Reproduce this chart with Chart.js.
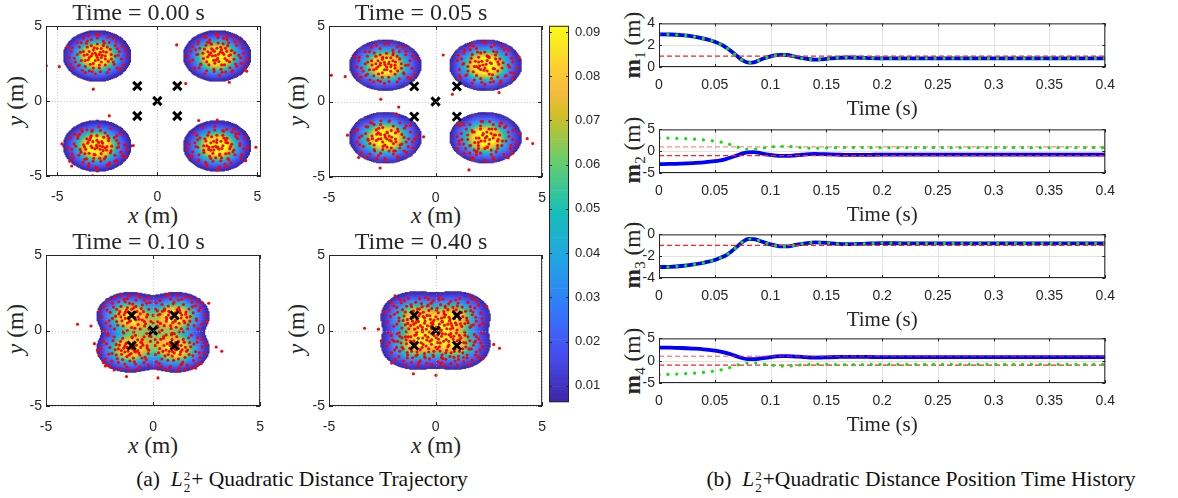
<!DOCTYPE html>
<html>
<head>
<meta charset="utf-8">
<title>L2^2 + Quadratic Distance</title>
<script src="https://cdn.jsdelivr.net/npm/chart.js@4.4.1/dist/chart.umd.min.js"></script>
<style>
html,body{margin:0;padding:0;background:#fff;}
body{position:relative;width:1178px;height:498px;overflow:hidden;font-family:"Liberation Serif","Times New Roman",serif;color:#262626;}
canvas{position:absolute;}
.t{position:absolute;white-space:nowrap;line-height:1;transform:translate(-50%,-50%);font-size:23.5px;}
.r{transform:translate(-50%,-50%) rotate(-90deg);}
.cap{font-size:21.5px;color:#111;}
.st{display:inline-block;font-size:13px;line-height:12px;vertical-align:-6px;margin:0 1px;}
.st span{display:block;}
.sb{font-size:15px;position:relative;top:5px;font-weight:normal;}
</style>
</head>
<body>
<div class="t" style="left:153px;top:216px"><i>x</i> (m)</div>
<div class="t" style="left:436px;top:216px"><i>x</i> (m)</div>
<div class="t" style="left:153px;top:446px"><i>x</i> (m)</div>
<div class="t" style="left:436px;top:446px"><i>x</i> (m)</div>
<div class="t r" style="left:16px;top:101px"><i>y</i> (m)</div>
<div class="t r" style="left:297px;top:101px"><i>y</i> (m)</div>
<div class="t r" style="left:16px;top:329px"><i>y</i> (m)</div>
<div class="t r" style="left:297px;top:329px"><i>y</i> (m)</div>
<div class="t r" style="left:633px;top:45px"><b>m</b><span class="sb">1</span> (m)</div>
<div class="t r" style="left:633px;top:150px"><b>m</b><span class="sb">2</span> (m)</div>
<div class="t r" style="left:633px;top:255px"><b>m</b><span class="sb">3</span> (m)</div>
<div class="t r" style="left:633px;top:361px"><b>m</b><span class="sb">4</span> (m)</div>
<div class="t cap" style="left:302px;top:481px">(a)&nbsp; <i>L</i><span class="st"><span>2</span><span>2</span></span>+ Quadratic Distance Trajectory</div>
<div class="t cap" style="left:921px;top:481px">(b)&nbsp; <i>L</i><span class="st"><span>2</span><span>2</span></span>+Quadratic Distance Position Time History</div>
<script>
// ===================== DATA =====================
const targets = [[-1,1],[1,1],[0,0],[-1,-1],[1,-1]];
const trajTicks = [-5,0,5];
const cbTicks = [0.01,0.02,0.03,0.04,0.05,0.06,0.07,0.08,0.09];
const cMin = 0.0063, cMax = 0.0914;
const panelTitles = ['Time = 0.00 s','Time = 0.05 s','Time = 0.10 s','Time = 0.40 s'];

// density components [cx, cy, peak] read from the colour fields
const dens00 = [[-3,3,0.12],[3,3,0.12],[-3,-3,0.121],[3,-3,0.117]];
const dens05 = [[-2.35,2.4,0.115],[2.35,2.4,0.12],[-2.35,-2.4,0.12],[2.35,-2.4,0.116]];
const dens10 = [[-1.08,0.98,0.1],[1.08,0.98,0.1],[-1.08,-1.22,0.1],[1.08,-1.22,0.1],[0,-0.12,0.035]];
const dens40 = [[-0.95,0.97,0.075],[0.95,0.97,0.075],[-0.95,-0.97,0.075],[0.95,-0.97,0.075],[0,0,0.05]];
const densSpread = [0.70,0.70,0.66,0.72];

// particles
const dots00 = [
[-3.1,3.2],[-2.8,3.5],[-3.4,2.9],[-2.6,2.8],[-3.0,3.8],[-3.7,3.3],[-2.3,3.1],[-3.2,2.5],[-2.9,2.2],[-3.5,3.6],
[-2.5,3.6],[-3.8,2.7],[-2.2,2.6],[-3.3,4.1],[-2.7,4.0],[-4.0,3.1],[-3.6,2.3],[-2.4,2.1],[-1.9,3.3],[-3.0,2.9],
[-3.2,3.4],[-2.9,3.1],[-2.7,3.3],[-3.3,3.0],[-3.5,3.1],[-2.6,3.0],[-3.1,2.7],[-2.8,2.6],[-3.9,3.6],[-4.3,3.3],
[-4.1,2.6],[-3.4,2.0],[-2.1,3.7],[-1.8,2.8],[-2.2,4.2],[-3.7,4.2],[-4.4,2.9],[-1.6,3.4],[-2.5,1.9],[-3.1,1.8],
[-3.8,3.9],[-2.9,4.4],[-2.0,2.2],[-4.5,3.6],[-3.6,1.9],[-2.4,3.9],[-3.0,3.5],[-2.8,2.9],[-3.4,3.3],[-2.6,2.4],
[-3.2,2.2],[-1.7,2.4],[-4.2,2.2],[-2.3,2.8],[-3.9,2.4],[-2.7,3.7],[-3.6,2.7],[-2.1,3.0],[-3.3,3.7],[-4.0,3.9],
[-1.5,3.0],[-2.9,2.4],[-3.5,4.0],[-2.0,3.5],[-3.0,4.2],
[-3.05,3.05],[-2.85,3.25],[-3.25,3.15],[-2.95,2.75],[-3.45,2.75],[-2.55,3.25],[-3.15,3.55],[-2.75,3.05],[-3.35,2.45],[-2.45,2.65],
[-3.65,3.05],[-2.65,3.85],[-3.85,3.25],[-2.35,3.45],[-3.55,3.85],[-2.15,2.45],[-4.15,2.85],[-3.25,1.95],[-1.95,3.05],[-3.75,2.05],
[-2.05,3.95],[-4.25,3.55],[-2.85,1.95],[-3.05,4.45],[-1.75,3.65],[-3.95,2.35],[-2.45,4.25],[-4.35,2.45],[-3.45,4.35],[-1.85,2.15],
[3.15,3.25],[2.72,3.48],[3.38,2.83],[2.52,2.94],[3.04,3.87],[3.71,3.36],[2.28,3.18],[3.22,2.41],[2.83,2.12],[3.52,3.68],
[2.43,3.72],[3.84,2.78],[2.18,2.47],[3.31,4.18],[2.62,4.07],[4.08,3.04],[3.63,2.21],[2.47,2.02],[1.92,3.41],[3.02,2.84],
[3.21,3.42],[2.91,3.03],[2.68,3.22],[3.33,3.11],[3.58,3.02],[2.61,3.09],[3.08,2.63],[2.82,2.71],[3.97,3.72],[4.31,3.18],
[4.18,2.52],[3.42,1.93],[2.03,3.82],[1.78,2.73],[2.33,4.28],[3.81,4.27],[4.48,2.81],[1.68,3.32],[2.38,1.82],[3.11,1.71],
[3.88,3.93],[2.93,4.47],[2.09,2.21],[3.47,3.31],[3.72,1.94],[2.51,3.91],[2.98,3.52],[2.79,3.38],[3.41,3.52],[2.58,2.41],
[3.19,2.12],[1.62,2.61],[4.38,2.12],[2.31,2.83],[3.92,2.47],[2.71,3.79],[3.61,2.62],[2.02,3.11],[3.29,3.81],[4.12,3.98],
[1.52,2.98],[2.88,2.52],[3.49,4.11],[2.12,3.52],[3.03,4.22],
[3.06,3.12],[2.86,3.31],[3.27,3.22],[2.93,2.72],[3.48,2.71],[2.53,3.28],[3.17,3.58],[2.76,3.01],[3.36,2.42],[2.47,2.62],
[3.66,3.08],[2.63,3.88],[3.87,3.21],[2.36,3.47],[3.56,3.88],[2.16,2.42],[4.17,2.88],[3.24,1.92],[1.97,3.08],[3.77,2.02],
[2.06,3.97],[4.27,3.52],[2.84,1.97],[3.04,4.42],[1.77,3.62],[3.97,2.32],[2.44,4.27],[4.36,2.48],[3.46,4.32],[1.86,2.18],
[-3.12,-3.18],[-2.73,-2.82],[-3.41,-3.48],[-2.52,-3.03],[-3.02,-2.31],[-3.68,-2.92],[-2.31,-3.32],[-3.18,-3.82],[-2.82,-4.01],[-3.52,-2.52],
[-2.42,-2.48],[-3.82,-3.41],[-2.12,-3.62],[-3.28,-2.02],[-2.61,-2.12],[-4.08,-3.02],[-3.62,-3.88],[-2.38,-4.12],[-1.92,-2.82],[-3.01,-3.12],
[-3.22,-2.71],[-2.88,-2.98],[-2.71,-3.31],[-3.31,-3.02],[-3.58,-3.21],[-2.62,-3.12],[-3.11,-3.58],[-2.81,-3.51],[-3.98,-2.48],[-4.28,-3.22],
[-4.21,-3.81],[-3.42,-4.18],[-2.02,-2.31],[-1.82,-3.41],[-2.32,-1.82],[-3.78,-1.92],[-4.48,-3.12],[-1.62,-2.92],[-2.52,-4.28],[-3.08,-4.42],
[-3.88,-2.22],[-2.92,-1.72],[-2.12,-4.02],[-3.48,-2.82],[-3.72,-4.08],[-2.48,-2.32],[-3.02,-2.62],[-2.78,-2.71],[-3.38,-2.58],[-2.58,-3.72],
[-3.21,-4.02],[-1.58,-3.72],[-4.38,-4.01],[-2.28,-3.01],[-3.92,-3.61],[-2.68,-2.42],[-3.62,-3.52],[-2.01,-3.12],[-3.31,-2.32],[-4.12,-2.21],
[-1.52,-3.21],[-2.88,-3.82],[-3.52,-1.92],[-2.02,-2.62],[-3.02,-4.58],
[-3.04,-2.96],[-2.86,-3.22],[-3.26,-3.12],[-2.94,-2.76],[-3.46,-2.74],[-2.54,-3.26],[-3.16,-3.56],[-2.74,-3.04],[-3.34,-2.44],[-2.44,-2.64],
[-3.64,-3.06],[-2.64,-3.86],[-3.86,-3.24],[-2.34,-3.46],[-3.54,-3.86],[-2.14,-2.44],[-4.16,-2.86],[-3.24,-1.94],[-1.94,-3.06],[-3.76,-2.04],
[-2.04,-3.96],[-4.26,-3.54],[-2.84,-1.96],[-3.04,-4.44],[-1.74,-3.64],[-3.96,-2.34],[-2.44,-4.26],[-4.34,-2.46],[-3.44,-4.34],[-1.84,-2.16],
[3.08,-3.22],[2.68,-2.78],[3.42,-3.52],[2.48,-2.98],[2.98,-2.28],[3.72,-2.88],[2.32,-3.28],[3.21,-3.78],[2.78,-4.02],[3.48,-2.48],
[2.38,-2.52],[3.78,-3.38],[2.08,-3.58],[3.32,-2.02],[2.58,-2.08],[4.12,-2.98],[3.58,-3.92],[2.42,-4.08],[1.88,-2.78],[2.98,-3.08],
[3.18,-2.68],[2.92,-3.02],[2.68,-3.28],[3.28,-2.98],[3.62,-3.18],[2.58,-3.08],[3.12,-3.62],[2.78,-3.48],[4.02,-2.52],[4.32,-3.18],
[4.18,-3.78],[3.38,-4.22],[1.98,-2.28],[1.78,-3.38],[2.28,-1.78],[3.82,-1.88],[4.52,-3.08],[1.58,-2.88],[2.48,-4.32],[3.12,-4.38],
[3.92,-2.18],[2.88,-1.68],[2.08,-3.98],[3.52,-2.78],[3.68,-4.12],[2.52,-2.28],[2.98,-2.58],[2.82,-2.68],[3.42,-2.62],[2.62,-3.68],
[3.18,-3.98],[1.62,-3.68],[4.42,-3.98],[2.32,-2.98],[3.88,-3.58],[2.72,-2.38],[3.58,-3.48],[2.02,-3.08],[3.28,-2.28],[4.08,-2.18],
[1.48,-3.18],[2.92,-3.78],[3.48,-1.88],[2.02,-2.58],[2.98,-4.62],
[3.03,-3.07],[2.83,-3.27],[3.23,-3.17],[2.97,-2.77],[3.43,-2.77],[2.57,-3.23],[3.13,-3.53],[2.77,-3.07],[3.33,-2.47],[2.43,-2.67],
[3.67,-3.03],[2.67,-3.83],[3.83,-3.27],[2.33,-3.43],[3.53,-3.83],[2.13,-2.47],[4.13,-2.83],[3.27,-1.97],[1.93,-3.03],[3.73,-2.07],
[2.07,-3.93],[4.23,-3.57],[2.87,-1.93],[3.07,-4.47],[1.73,-3.67],[3.93,-2.37],[2.47,-4.23],[4.37,-2.43],[3.47,-4.37],[1.83,-2.13],
[-5.55,2.35],[-4.9,2.29],[-3.2,0.79],[0.97,3.74],[1.42,1.16],[3.6,1.25],[4.47,1.98],[-2.4,-0.99],[-1.2,-2.97],
[-4.77,-2.86],[-4.28,-4.33],[-3.23,-4.99],[2.2,-5.16],[4.93,-3.08],[5.2,-3.36],[2.07,-1.3],[3.0,-1.27]
];

const dots05 = [
[-2.4,2.6],[-2.1,2.9],[-2.7,2.3],[-1.9,2.2],[-2.3,3.2],[-3.0,2.7],[-1.6,2.5],[-2.5,1.9],[-2.2,1.6],[-2.8,3.0],
[-1.8,3.0],[-3.1,2.1],[-1.5,1.9],[-2.6,3.5],[-2.0,3.4],[-3.3,2.5],[-2.9,1.7],[-1.7,1.5],[-1.2,2.7],[-2.3,2.3],
[-2.5,2.8],[-2.2,2.5],[-2.0,2.7],[-2.6,2.4],[-2.8,2.5],[-1.9,2.4],[-2.4,2.1],[-2.1,2.0],[-3.2,3.0],[-3.6,2.7],
[-3.4,2.0],[-2.7,1.4],[-1.4,3.1],[-1.1,2.2],[-1.5,3.6],[-3.0,3.6],[-3.7,2.3],[-0.9,2.8],[-1.8,1.3],[-2.4,1.2],
[-3.1,3.3],[-2.2,3.8],[-1.3,1.6],[-3.8,3.0],[-2.9,1.3],[-1.7,3.3],[-2.3,2.9],[-2.1,2.3],[-2.7,2.7],[-1.9,1.8],
[-2.5,1.6],[-1.0,1.8],[-3.5,1.6],[-1.6,2.2],[-3.2,1.8],[-2.0,3.1],[-2.9,2.1],[-1.4,2.4],[-2.6,3.1],[-3.3,3.3],
[-2.38,2.45],[-2.18,2.62],[-2.58,2.55],[-2.28,2.12],[-2.78,2.18],[-1.88,2.62],[-2.48,2.92],[-2.08,2.42],[-2.68,1.82],[-1.78,2.02],
[-2.98,2.42],[-1.98,3.22],[-3.18,2.62],[-1.68,2.82],[-2.88,3.22],[-1.48,1.82],[-3.48,2.22],[-2.58,1.32],[-1.28,2.42],[-3.08,1.42],
[-1.38,3.32],[-3.58,2.92],[-2.18,1.32],[-2.38,3.82],[-1.08,3.02],[-3.28,1.72],[-1.78,3.62],[-3.68,1.82],[-2.78,3.72],[-1.18,1.52],
[2.42,2.71],[2.02,2.93],[2.71,2.18],[1.82,2.32],[2.31,3.28],[3.02,2.82],[1.62,2.61],[2.52,1.82],[2.12,1.52],[2.81,3.08],
[1.72,3.12],[3.12,2.22],[1.52,2.02],[2.62,3.61],[1.92,3.52],[3.41,2.42],[2.92,1.62],[1.82,1.42],[1.22,2.82],[2.32,2.22],
[2.52,2.92],[2.22,2.42],[2.02,2.62],[2.62,2.52],[2.92,2.62],[1.92,2.32],[2.42,2.02],[2.12,2.12],[3.32,3.12],[3.62,2.62],
[3.52,1.92],[2.72,1.32],[1.32,3.22],[1.12,2.12],[1.62,3.72],[3.12,3.62],[3.82,2.22],[1.02,2.72],[1.72,1.22],[2.32,1.12],
[3.22,3.42],[2.22,3.92],[1.42,1.72],[3.92,2.92],[3.02,1.22],[1.62,3.42],[2.42,3.02],[2.02,2.22],[2.82,2.82],[1.92,1.72],
[2.62,1.52],[1.12,1.72],[3.62,1.52],[1.52,2.32],[3.32,1.72],[2.12,3.22],[2.92,2.02],[1.32,2.52],[2.72,3.32],[3.42,3.42],
[2.37,2.47],[2.17,2.67],[2.57,2.57],[2.27,2.07],[2.77,2.17],[1.87,2.67],[2.47,2.97],[2.07,2.37],[2.67,1.77],[1.77,1.97],
[2.97,2.47],[1.97,3.27],[3.17,2.57],[1.67,2.87],[2.87,3.27],[1.47,1.77],[3.47,2.27],[2.57,1.27],[1.27,2.47],[3.07,1.37],
[1.37,3.37],[3.57,2.87],[2.17,1.27],[2.37,3.87],[1.07,3.07],[3.27,1.67],[1.77,3.67],[3.67,1.87],[2.77,3.77],[1.17,1.57],
[-2.38,-2.21],[-2.08,-2.62],[-2.68,-2.48],[-1.88,-2.08],[-2.28,-3.02],[-2.98,-2.28],[-1.58,-2.82],[-2.48,-1.72],[-2.18,-3.28],[-2.78,-1.88],
[-1.78,-1.82],[-3.08,-2.78],[-1.48,-2.38],[-2.58,-3.42],[-1.98,-3.48],[-3.28,-2.12],[-2.88,-3.18],[-1.68,-3.08],[-1.18,-2.02],[-2.28,-2.48],
[-2.48,-2.68],[-2.18,-2.28],[-1.98,-2.78],[-2.58,-2.18],[-2.78,-2.58],[-1.88,-2.48],[-2.38,-2.88],[-2.08,-1.92],[-3.18,-1.68],[-3.58,-2.38],
[-3.38,-2.98],[-2.68,-3.58],[-1.38,-1.62],[-1.08,-2.68],[-1.48,-3.28],[-2.98,-1.42],[-3.68,-2.68],[-0.88,-2.28],[-1.78,-3.68],[-2.38,-3.78],
[-3.08,-3.48],[-2.18,-1.32],[-1.28,-2.98],[-3.78,-2.02],[-2.88,-1.52],[-1.68,-1.42],[-2.28,-2.02],[-2.08,-3.08],[-2.68,-2.08],[-1.88,-3.28],
[-2.48,-3.18],[-0.98,-2.48],[-3.48,-3.38],[-1.58,-2.18],[-3.18,-2.48],[-1.98,-1.62],[-2.88,-2.88],[-1.38,-2.68],[-2.58,-1.52],[-3.28,-3.68],
[-2.36,-2.37],[-2.16,-2.57],[-2.56,-2.47],[-2.26,-2.07],[-2.76,-2.17],[-1.86,-2.67],[-2.46,-2.97],[-2.06,-2.37],[-2.66,-1.77],[-1.76,-1.97],
[-2.96,-2.47],[-1.96,-3.27],[-3.16,-2.57],[-1.66,-2.87],[-2.86,-3.27],[-1.46,-1.77],[-3.46,-2.27],[-2.56,-1.27],[-1.26,-2.47],[-3.06,-1.37],
[-1.36,-3.37],[-3.56,-2.87],[-2.16,-1.27],[-2.36,-3.87],[-1.06,-3.07],[-3.26,-1.67],[-1.76,-3.67],[-3.66,-1.87],[-2.76,-3.77],[-1.16,-1.57],
[2.41,-2.32],[2.01,-2.71],[2.71,-2.42],[1.81,-2.02],[2.31,-3.12],[3.01,-2.22],[1.61,-2.92],[2.51,-1.82],[2.11,-3.42],[2.81,-1.82],
[1.71,-1.92],[3.11,-2.92],[1.51,-2.52],[2.61,-3.52],[1.91,-3.32],[3.41,-2.02],[2.91,-3.12],[1.81,-3.22],[1.21,-2.12],[2.31,-2.62],
[2.51,-2.82],[2.21,-2.22],[2.01,-2.92],[2.61,-2.12],[2.91,-2.62],[1.91,-2.42],[2.41,-3.02],[2.11,-1.82],[3.31,-1.62],[3.61,-2.52],
[3.51,-3.12],[2.71,-3.72],[1.31,-1.52],[1.11,-2.82],[1.61,-3.42],[3.11,-1.42],[3.81,-2.82],[1.01,-2.32],[1.71,-3.82],[2.31,-3.92],
[3.21,-3.52],[2.21,-1.32],[1.41,-3.12],[3.91,-2.12],[3.01,-1.62],[1.61,-1.52],[2.41,-2.02],[2.01,-3.12],[2.81,-2.22],[1.91,-3.52],
[2.61,-3.22],[1.11,-2.62],[3.61,-3.42],[1.51,-2.22],[3.31,-2.62],[2.11,-1.62],[2.91,-2.92],[1.31,-2.82],[2.71,-1.52],[3.41,-3.72],
[2.34,-2.42],[2.14,-2.62],[2.54,-2.52],[2.24,-2.12],[2.74,-2.22],[1.84,-2.72],[2.44,-3.02],[2.04,-2.42],[2.64,-1.82],[1.74,-2.02],
[2.94,-2.52],[1.94,-3.32],[3.14,-2.62],[1.64,-2.92],[2.84,-3.32],[1.44,-1.82],[3.44,-2.32],[2.54,-1.32],[1.24,-2.52],[3.04,-1.42],
[1.34,-3.42],[3.54,-2.92],[2.14,-1.32],[2.34,-3.92],[1.04,-3.12],[3.24,-1.72],[1.74,-3.72],[3.64,-1.92],[2.74,-3.82],[1.14,-1.62],
[-4.89,1.74],[-4.24,1.65],[-2.57,0.15],[0.36,3.08],[0.79,0.48],[2.98,0.59],[-1.73,-0.37],[-1.85,-0.82],[-4.13,-2.23],
[-3.61,-3.71],[-2.6,-4.4],[-0.56,-2.34],[1.57,-4.53],[4.3,-2.45],[4.56,-2.78],[1.09,-1.48]
];

const dots10 = [
[-1.0,1.0],[-1.3,1.2],[-0.8,0.7],[-1.5,0.9],[-0.9,1.5],[-1.2,0.5],[-0.6,1.1],[-1.7,1.4],[-1.1,1.8],[-0.7,0.4],
[-1.4,0.3],[-1.9,0.8],[-0.5,1.7],[-1.6,1.9],[-0.3,0.9],[-2.0,1.2],[-1.2,2.1],[-0.8,2.0],[-2.2,0.5],[-1.0,0.2],
[-0.4,0.3],[-1.8,0.1],[-2.3,1.6],[-0.2,1.4],[-1.5,2.3],[-0.6,2.2],[-2.1,2.0],[-1.3,0.8],[-0.9,1.2],[-1.1,0.6],
[-1.6,1.1],[-0.7,0.9],[-1.2,1.5],[-1.9,1.8],[-2.4,0.9],[-0.1,0.6],[-1.4,-0.1],[-0.9,-0.1],[-2.1,-0.2],[-0.4,2.0],
[-1.7,0.6],[-1.0,1.4],[-0.5,0.7],[-2.5,1.3],[-1.3,1.9],[-0.8,1.6],[-1.5,1.6],[-2.0,0.3],[-0.3,1.8],[-1.1,2.3],
[-0.6,0.1],[-1.8,2.2],[-2.3,0.0],[-1.2,0.0],[-0.2,2.2],
[-0.95,1.05],[-1.15,0.85],[-0.75,1.25],[-1.35,1.05],[-1.05,0.65],[-0.85,0.85],[-1.25,1.35],[-0.65,0.75],[-1.45,0.65],[-0.95,1.75],
[-1.55,1.25],[-0.45,1.25],[-1.75,0.95],[-0.35,0.45],[-1.05,1.15],[-0.55,1.45],[-1.65,0.35],[-1.35,2.05],[-0.25,1.05],[-2.05,0.65],
[-0.85,0.15],[-1.85,1.55],[-0.15,1.85],[-2.15,1.35],[-0.75,2.35],
[1.02,0.98],[1.31,0.82],[0.78,1.22],[1.52,1.08],[0.92,0.52],[1.21,1.52],[0.62,0.88],[1.72,0.62],[1.08,0.22],[0.71,1.62],
[1.42,1.72],[1.88,1.18],[0.52,0.32],[1.62,0.12],[0.32,1.08],[2.02,0.78],[1.18,2.02],[0.82,2.08],[2.22,1.52],[0.98,1.88],
[0.42,1.72],[1.82,1.88],[2.28,0.42],[0.22,0.58],[1.52,2.22],[0.62,2.28],[2.12,0.12],[1.28,1.18],[0.88,0.82],[1.12,1.38],
[1.58,0.88],[0.72,1.02],[1.22,0.48],[1.92,0.32],[2.42,1.02],[0.12,1.42],[1.42,-0.08],[0.88,-0.18],[2.08,1.92],[0.42,0.02],
[1.68,1.42],[1.02,0.62],[0.52,1.32],[2.52,0.62],[1.32,0.12],[0.82,0.32],[1.48,0.52],[1.98,1.62],[0.32,1.98],[1.12,2.32],
[0.62,0.62],[1.78,2.18],[2.32,1.82],[1.22,-0.08],[0.22,0.22],
[0.94,1.07],[1.14,0.83],[0.74,1.27],[1.34,1.03],[1.04,0.67],[0.84,0.87],[1.24,1.33],[0.64,0.77],[1.44,0.63],[0.94,1.77],
[1.54,1.23],[0.44,1.27],[1.74,0.93],[0.34,0.47],[1.04,1.17],[0.54,1.43],[1.64,0.37],[1.34,2.07],[0.24,1.03],[2.04,0.67],
[0.84,0.13],[1.84,1.57],[0.14,1.83],[2.14,1.33],[0.74,2.37],
[-0.98,-1.22],[-1.32,-1.02],[-0.82,-1.42],[-1.48,-1.32],[-0.92,-0.82],[-1.22,-1.72],[-0.58,-1.12],[-1.72,-0.92],[-1.08,-2.02],[-0.72,-0.62],
[-1.42,-0.52],[-1.92,-1.52],[-0.52,-1.82],[-1.62,-2.12],[-0.28,-1.02],[-2.02,-1.12],[-1.22,-2.42],[-0.82,-2.22],[-2.22,-1.92],[-0.98,-0.42],
[-0.42,-0.42],[-1.82,-0.42],[-2.32,-0.72],[-0.22,-1.52],[-1.52,-2.52],[-0.62,-2.42],[-2.12,-2.32],[-1.32,-1.42],[-0.88,-1.02],[-1.12,-1.62],
[-1.62,-1.22],[-0.72,-1.32],[-1.22,-0.82],[-1.92,-2.02],[-2.42,-1.22],[-0.12,-0.72],[-1.42,-1.92],[-0.92,-1.82],[-2.12,-0.32],[-0.42,-2.12],
[-1.72,-1.62],[-1.02,-1.52],[-0.52,-0.82],[-2.52,-1.62],[-1.32,-2.22],[-0.82,-0.32],[-1.52,-0.72],[-2.02,-2.42],[-0.32,-1.92],[-1.12,-2.62],
[-0.62,-1.62],[-1.82,-2.62],[-2.32,-2.12],[-1.22,-1.12],[-0.22,-2.32],
[-0.97,-1.17],[-1.17,-1.37],[-0.77,-0.97],[-1.37,-1.17],[-1.07,-1.57],[-0.87,-1.37],[-1.27,-0.87],[-0.67,-1.47],[-1.47,-1.57],[-0.97,-0.47],
[-1.57,-0.97],[-0.47,-0.97],[-1.77,-1.27],[-0.37,-1.77],[-1.07,-1.07],[-0.57,-0.77],[-1.67,-1.87],[-1.37,-0.17],[-0.27,-1.17],[-2.07,-1.57],
[-0.87,-2.07],[-1.87,-0.67],[-0.17,-0.37],[-2.17,-0.87],[-0.77,-2.57],
[1.01,-1.19],[1.29,-1.41],[0.79,-0.99],[1.51,-1.11],[0.89,-1.69],[1.19,-0.71],[0.61,-1.29],[1.69,-1.59],[1.11,-0.41],[0.69,-1.99],
[1.39,-2.09],[1.91,-0.89],[0.49,-0.51],[1.59,-2.29],[0.31,-1.19],[1.99,-1.39],[1.21,-2.49],[0.81,-2.39],[2.19,-1.79],[0.99,-0.21],
[0.41,-1.89],[1.79,-0.31],[2.29,-1.09],[0.21,-0.79],[1.49,-2.59],[0.59,-2.59],[2.09,-2.29],[1.31,-0.99],[0.91,-1.39],[1.09,-0.89],
[1.61,-1.29],[0.71,-1.59],[1.19,-1.89],[1.89,-1.99],[2.39,-1.49],[0.11,-1.59],[1.41,-0.59],[0.89,-0.59],[2.09,-0.49],[0.39,-2.39],
[1.71,-0.79],[0.99,-1.49],[0.51,-0.99],[2.49,-0.89],[1.29,-2.29],[0.79,-0.79],[1.49,-1.79],[1.99,-2.49],[0.29,-2.19],[1.09,-2.69],
[0.61,-0.29],[1.79,-2.49],[2.29,-0.59],[1.19,-1.19],[0.19,-2.49],
[0.96,-1.18],[1.16,-0.98],[0.76,-1.38],[1.36,-1.28],[1.06,-0.78],[0.86,-0.98],[1.26,-1.58],[0.66,-0.88],[1.46,-0.78],[0.96,-1.98],
[1.56,-1.38],[0.46,-1.38],[1.76,-1.08],[0.36,-0.58],[1.06,-1.28],[0.56,-1.68],[1.66,-0.48],[1.36,-2.18],[0.26,-1.48],[2.06,-0.78],
[0.86,-0.28],[1.86,-1.68],[0.16,-2.08],[2.16,-1.48],[0.76,-2.48],
[0.0,0.0],[0.1,-0.2],[-0.2,0.1],[0.2,0.3],[-0.1,-0.4],[0.3,-0.1],[-0.3,-0.2],[0.0,0.5],[0.1,-0.6],[-0.4,0.6],
[0.5,-0.4],[-0.5,-0.6],[0.0,1.0],[0.1,-1.0],[-0.2,-1.3],[0.2,1.3],
[-3.53,0.41],[-2.9,0.3],[-2.74,-0.87],[-2.23,-2.35],[-1.24,-3.05],[0.23,-3.14],[2.95,-1.09],[3.21,-1.37],[2.25,-2.18],[2.6,1.8],[-2.6,-1.3]
];

const dots40 = [
[-2.08,1.83],[-1.66,2.04],[-1.27,2.12],[-0.93,1.87],[-0.47,2.18],[-0.12,1.96],[0.34,2.07],[0.71,1.92],[1.13,2.11],[1.52,1.86],[1.93,1.98],
[-2.17,1.37],[-1.82,1.52],[-1.36,1.61],[-1.04,1.28],[-0.63,1.57],[-0.18,1.46],[0.24,1.71],[0.58,1.38],[1.02,1.63],[1.41,1.27],[1.84,1.49],[2.12,1.16],
[-1.93,1.07],[-1.48,0.96],[-1.13,0.87],[-0.72,1.12],[-0.27,0.98],[0.13,1.18],[0.47,1.03],[0.92,1.08],[1.28,0.91],[1.73,1.04],[2.18,0.77],
[-2.26,0.58],[-1.72,0.63],[-1.31,0.47],[-0.88,0.72],[-0.52,0.48],[-0.07,0.69],[0.32,0.57],[0.73,0.46],[1.14,0.71],[1.53,0.52],[1.91,0.62],
[-1.97,0.28],[-1.58,0.17],[-1.17,0.33],[-0.83,0.19],[-0.38,0.31],[0.04,0.22],[0.42,0.34],[0.81,0.16],[1.23,0.27],[1.62,0.21],[2.06,0.32],
[-0.78,0.97],[-0.31,1.33],[0.41,0.88],[0.88,0.79],[-1.08,0.61],[0.18,0.43],[-0.58,0.92],[1.22,1.19],[-1.42,1.22],[0.62,1.77],
[-0.21,1.81],[1.63,1.58],[-1.61,1.83],[0.02,0.91],[-0.43,0.08],[0.53,0.12],[-0.98,0.09],[1.01,0.03],
[-2.19,-0.12],[-1.79,-0.21],[-1.38,-0.08],[-0.97,-0.31],[-0.61,-0.09],[-0.17,-0.22],[0.22,-0.07],[0.63,-0.28],[0.98,-0.17],[1.37,-0.11],[1.82,-0.27],[2.17,-0.18],
[-2.02,-0.61],[-1.57,-0.48],[-1.18,-0.72],[-0.81,-0.52],[-0.41,-0.63],[0.03,-0.47],[0.38,-0.71],[0.83,-0.58],[1.19,-0.49],[1.61,-0.68],[2.03,-0.57],
[-2.28,-1.03],[-1.83,-1.12],[-1.37,-0.88],[-0.98,-1.02],[-0.63,-1.13],[-0.19,-0.91],[0.18,-1.08],[0.62,-0.97],[1.03,-0.92],[1.42,-1.09],[1.78,-0.98],[2.21,-1.07],
[-2.07,-1.48],[-1.68,-1.37],[-1.31,-1.62],[-0.87,-1.41],[-0.52,-1.53],[-0.08,-1.38],[0.31,-1.61],[0.73,-1.47],[1.12,-1.38],[1.48,-1.63],[1.92,-1.42],
[-1.88,-1.92],[-1.52,-2.03],[-1.08,-1.81],[-0.72,-2.01],[-0.28,-1.88],[0.12,-2.07],[0.48,-1.91],[0.92,-2.02],[1.31,-1.79],[1.72,-1.98],[2.01,-1.78],
[-1.38,-2.27],[-0.82,-2.31],[-0.18,-2.26],[0.43,-2.33],[1.02,-2.28],[1.58,-2.24],
[-0.68,-0.81],[0.28,-0.38],[0.91,-1.22],[-1.21,-1.18],[-0.32,-1.21],[0.52,-1.31],[1.32,-0.79],[-1.62,-0.83],[0.09,-0.79],[-0.48,-1.82],
[1.08,-1.71],[-1.02,-0.68],[0.72,-0.21],[-0.07,-0.33],
[-0.12,0.41],[0.27,0.02],[-0.36,-0.44],[0.66,0.63],[-0.71,0.33],[0.14,-0.58],[-0.24,0.74],[0.86,-0.38],[-0.91,-0.27],[0.39,1.26],
[-0.57,1.21],[1.17,0.44],[-1.26,0.12],[0.07,1.49],[0.97,1.37],[-0.84,1.43],[1.38,-0.31],[-1.41,-0.42],[0.58,-1.07],[-0.44,-1.03],
[0.21,-1.36],[-0.09,-1.72],[1.27,-1.21],[-1.33,-1.46],[0.77,0.31],[-0.62,0.04],[0.47,-0.23],[-0.18,0.11],[0.11,0.76],[-1.07,0.84],
[1.46,0.83],[-1.52,0.66],[0.82,1.53],[-0.39,1.62],[1.68,0.31],[-1.71,-0.13],[1.12,-0.61],[-0.86,-1.61],[0.34,-1.86],[-1.16,-0.41],
[0.63,0.88],[-0.49,0.63],[0.02,-1.11],[0.93,0.51],[-0.27,-0.71],[1.57,-1.22],[-1.57,-1.11],[0.46,1.52],[-0.66,1.78],[1.06,1.82],
[-1.13,1.58],[1.76,1.23],[-1.79,1.21],[0.17,2.03],[-0.33,2.06],[1.87,-0.71],[-1.93,-0.72],[0.87,-1.78],[-0.79,-2.12],[0.29,-2.14],
[-1.95,1.62],[-1.55,1.38],[-1.15,1.72],[-0.75,1.42],[-0.35,1.68],[0.05,1.35],[0.45,1.62],[0.85,1.28],[1.25,1.55],[1.65,1.32],[2.02,1.68],
[-2.12,0.92],[-1.72,0.82],[-1.32,0.72],[-0.92,0.52],[-0.52,0.82],[-0.12,0.58],[0.28,0.82],[0.68,0.72],[1.08,0.92],[1.48,0.68],[1.88,0.88],
[-1.82,0.42],[-1.42,0.38],[-1.02,0.42],[-0.62,0.22],[-0.22,0.28],[0.18,0.12],[0.58,0.42],[0.98,0.38],[1.38,0.46],[1.78,0.38],[2.22,0.48],
[-2.08,-0.32],[-1.68,-0.38],[-1.28,-0.42],[-0.88,-0.12],[-0.48,-0.32],[-0.08,-0.12],[0.32,-0.22],[0.72,-0.42],[1.12,-0.32],[1.52,-0.42],[1.92,-0.42],
[-2.18,-0.82],[-1.78,-0.72],[-1.38,-0.62],[-0.98,-0.82],[-0.58,-0.92],[-0.18,-0.62],[0.22,-0.82],[0.62,-0.72],[1.02,-0.68],[1.42,-0.82],[1.82,-0.78],[2.12,-0.82],
[-1.92,-1.28],[-1.52,-1.22],[-1.12,-1.38],[-0.72,-1.28],[-0.32,-1.42],[0.08,-1.22],[0.48,-1.48],[0.88,-1.38],[1.28,-1.48],[1.68,-1.22],[2.08,-1.28],
[-1.72,-1.72],[-1.32,-1.82],[-0.92,-1.68],[-0.52,-1.72],[-0.12,-1.62],[0.28,-1.78],[0.68,-1.72],[1.08,-1.92],[1.48,-1.82],[1.88,-1.62],
[-1.12,-2.12],[-0.42,-2.18],[0.22,-2.22],[0.72,-2.18],[1.32,-2.08],
[-0.2,0.5],[0.3,0.6],[-0.6,-0.5],[0.5,-0.6],[0.1,-0.3],[-0.3,-0.1],[0.7,0.1],[-0.8,0.6],[0.9,-0.8],[-1.0,-0.9],[0.4,1.1],[-0.4,1.0],
[-1.45,1.98],[-0.75,2.12],[0.15,2.15],[0.95,2.02],[1.75,2.08],
[-3.33,0.15],[-2.68,0.09],[-2.55,-0.68],[-2.06,-2.16],[-1.04,-2.86],[0.02,-2.97],[2.73,-0.92],[3.0,-1.18],[2.23,-1.83],
[-2.4,1.2],[2.4,1.6],[-1.9,2.3],[1.6,2.3]
];

// time histories
const tHist = [0,0.01,0.02,0.03,0.04,0.05,0.055,0.06,0.065,0.07,0.075,0.08,0.085,0.09,0.095,0.1,0.105,0.11,0.115,0.12,0.125,0.13,0.135,0.14,0.145,0.15,0.16,0.17,0.18,0.19,0.2,0.22,0.25,0.3,0.35,0.4];
const histTicks = [0,0.05,0.1,0.15,0.2,0.25,0.3,0.35,0.4];
const m1Blue  = [3.0,2.98,2.92,2.8,2.6,2.32,2.1,1.8,1.42,1.0,0.6,0.4,0.43,0.62,0.82,0.98,1.08,1.12,1.1,1.0,0.88,0.78,0.71,0.68,0.7,0.75,0.83,0.87,0.85,0.81,0.79,0.79,0.8,0.79,0.79,0.79];
const m1Green = [3.0,2.98,2.91,2.8,2.6,2.33,2.1,1.8,1.42,1.0,0.61,0.41,0.43,0.62,0.82,0.98,1.08,1.12,1.1,1.0,0.88,0.78,0.71,0.68,0.7,0.75,0.83,0.87,0.85,0.81,0.79,0.79,0.8,0.79,0.79,0.79];
const m2Blue  = [-2.95,-2.93,-2.85,-2.72,-2.55,-2.3,-2.1,-1.8,-1.4,-0.95,-0.5,-0.25,-0.22,-0.4,-0.65,-0.85,-1.0,-1.07,-1.06,-1.0,-0.88,-0.78,-0.68,-0.64,-0.65,-0.7,-0.8,-0.86,-0.85,-0.82,-0.8,-0.8,-0.8,-0.8,-0.8,-0.8];
const m2Green = [3.05,3.0,2.92,2.8,2.6,2.3,2.1,1.85,1.4,0.95,0.6,0.42,0.45,0.6,0.8,0.96,1.08,1.12,1.08,1.0,0.88,0.78,0.71,0.68,0.7,0.75,0.82,0.86,0.85,0.81,0.8,0.8,0.8,0.8,0.8,0.8];
const m3Blue  = [-3.0,-2.97,-2.9,-2.78,-2.6,-2.35,-2.15,-1.92,-1.55,-1.12,-0.68,-0.42,-0.43,-0.58,-0.76,-0.92,-1.03,-1.1,-1.1,-1.02,-0.92,-0.84,-0.77,-0.74,-0.75,-0.78,-0.86,-0.89,-0.87,-0.83,-0.8,-0.82,-0.83,-0.83,-0.83,-0.83];
const m3Green = [-3.0,-2.97,-2.9,-2.78,-2.6,-2.35,-2.15,-1.92,-1.55,-1.12,-0.68,-0.42,-0.43,-0.58,-0.76,-0.92,-1.03,-1.1,-1.1,-1.02,-0.92,-0.84,-0.77,-0.74,-0.75,-0.78,-0.86,-0.89,-0.87,-0.83,-0.8,-0.82,-0.83,-0.83,-0.83,-0.83];
const m4Blue  = [2.95,2.93,2.85,2.72,2.55,2.25,2.05,1.75,1.38,0.95,0.55,0.35,0.35,0.45,0.62,0.8,0.95,1.02,1.02,0.98,0.9,0.8,0.72,0.7,0.72,0.76,0.83,0.87,0.86,0.83,0.8,0.8,0.8,0.8,0.8,0.8];
const m4Green = [-3.1,-3.05,-2.95,-2.82,-2.6,-2.3,-2.1,-1.82,-1.42,-1.0,-0.68,-0.52,-0.5,-0.6,-0.8,-0.98,-1.12,-1.2,-1.2,-1.12,-1.0,-0.9,-0.82,-0.78,-0.78,-0.8,-0.86,-0.9,-0.88,-0.84,-0.82,-0.82,-0.82,-0.82,-0.82,-0.82];
const m1Refs = [1], m2Refs = [1,-1], m3Refs = [-1], m4Refs = [1,-1];

// ===================== STYLE / HELPERS =====================
const SANS = '"Liberation Sans", Arial, Helvetica, sans-serif';
const SERIF = '"Liberation Serif", "Times New Roman", serif';
const AX = '#262626';
const parulaPos = [0,0.127,0.254,0.381,0.508,0.635,0.762,0.825,0.889,1];
const parulaRGB = [[62,38,168],[72,77,240],[50,124,252],[32,165,227],[25,191,182],[100,205,111],[209,191,39],[248,186,61],[252,207,48],[249,251,21]];
function parula(t){
  t = Math.max(0, Math.min(1, t));
  let i = 0; while (i < parulaPos.length - 2 && t > parulaPos[i+1]) i++;
  const f = (t - parulaPos[i]) / (parulaPos[i+1] - parulaPos[i]);
  const a = parulaRGB[i], b = parulaRGB[i+1];
  return 'rgb(' + [0,1,2].map(k => Math.round(a[k] + (b[k]-a[k])*f)).join(',') + ')';
}
function densityCells(comps, sigma, xr){
  const cells = [], s2 = 2*sigma*sigma;
  for (let i = Math.ceil(xr[0]*20); i <= Math.floor(xr[1]*20); i++){
    for (let j = -100; j <= 100; j++){
      const x = i/20, y = j/20; let v = 0;
      for (const [cx,cy,w] of comps) v += w*Math.exp(-((x-cx)*(x-cx)+(y-cy)*(y-cy))/s2);
      if (v >= cMin) cells.push({x, y, c: parula((v-cMin)/(cMax-cMin))});
    }
  }
  return cells;
}
function place(left, top, w, h){
  const c = document.createElement('canvas');
  c.width = w; c.height = h;
  c.style.left = left+'px'; c.style.top = top+'px';
  c.style.width = w+'px'; c.style.height = h+'px';
  document.body.appendChild(c);
  return c;
}
function drawGrid(chart, o){
  const {ctx, chartArea: c} = chart, xs = chart.scales.x, ys = chart.scales.y;
  ctx.save(); ctx.strokeStyle = o.gridColor; ctx.lineWidth = 1; ctx.setLineDash(o.gridDash || []);
  ctx.beginPath();
  if (o.xTicks) xs.ticks.forEach(t => { const p = Math.round(xs.getPixelForValue(t.value))+0.5; ctx.moveTo(p, c.top); ctx.lineTo(p, c.bottom); });
  ys.ticks.forEach(t => { const p = Math.round(ys.getPixelForValue(t.value))+0.5; ctx.moveTo(c.left, p); ctx.lineTo(c.right, p); });
  ctx.stroke(); ctx.restore();
}
const frame = {
  id: 'frame',
  beforeDatasetsDraw(chart, a, o){ if (o.grid && o.gridBelow) drawGrid(chart, o); },
  afterDatasetsDraw(chart, a, o){
    if (o.grid && !o.gridBelow) drawGrid(chart, o);
    const {ctx, chartArea: c} = chart, xs = chart.scales.x, ys = chart.scales.y, tl = o.tick;
    ctx.save(); ctx.strokeStyle = AX; ctx.lineWidth = 1; ctx.beginPath();
    if (o.xTicks) xs.ticks.forEach(t => { const p = Math.round(xs.getPixelForValue(t.value))+0.5; ctx.moveTo(p, c.bottom); ctx.lineTo(p, c.bottom-tl); ctx.moveTo(p, c.top); ctx.lineTo(p, c.top+tl); });
    ys.ticks.forEach(t => { const p = Math.round(ys.getPixelForValue(t.value))+0.5; ctx.moveTo(c.left, p); ctx.lineTo(c.left+tl, p); ctx.moveTo(c.right, p); ctx.lineTo(c.right-tl, p); });
    ctx.stroke();
    ctx.strokeRect(c.left+0.5, c.top+0.5, c.right-c.left-1, c.bottom-c.top-1);
    ctx.restore();
  }
};
const setTicks = arr => s => { s.ticks = arr.map(v => ({value: v})); };

// ===================== TRAJECTORY PANELS =====================
const panels = [
  {plot:[46,24,261,176], xr:[-5.565,5.185], dots:dots00, comps:dens00},
  {plot:[329,24,543,177], xr:[-5,5], dots:dots05, comps:dens05},
  {plot:[46,253,261,406], xr:[-5,5], dots:dots10, comps:dens10},
  {plot:[329,253,543,406], xr:[-5,5], dots:dots40, comps:dens40}
];
panels.forEach((p, k) => {
  const [L,T,R,B] = p.plot;
  const cv = place(L-30, T-24, (R-L)+46, (B-T)+52);
  const cells = densityCells(p.comps, densSpread[k], p.xr);
  new Chart(cv, {
    type: 'scatter',
    data: { datasets: [
      {data: targets.map(([x,y]) => ({x,y})), pointStyle:'crossRot', pointRadius:5.8, pointBorderColor:'#000', pointBorderWidth:3, pointBackgroundColor:'#000'},
      {data: p.dots.map(([x,y]) => ({x,y})), pointStyle:'circle', pointRadius:1.55, pointBackgroundColor:'#ff0000', pointBorderWidth:0},
      {data: cells, pointStyle:'rect', pointRadius:0.95, pointBackgroundColor: cells.map(c => c.c), pointBorderWidth:0}
    ]},
    options: {
      responsive:false, animation:false, events:[],
      layout:{padding:{top:2,right:16,left:0,bottom:0}},
      plugins:{
        legend:{display:false}, tooltip:{enabled:false},
        title:{display:true, text:panelTitles[k], color:AX, font:{family:SERIF, size:24, weight:'normal', lineHeight:1}, padding:{top:0,bottom:0}},
        frame:{tick:4, xTicks:true, grid:true, gridColor:'rgba(170,170,170,0.6)', gridDash:[1,2], gridBelow:false}
      },
      scales:{
        x:{type:'linear', min:p.xr[0], max:p.xr[1], afterBuildTicks:setTicks(trajTicks), afterFit:s => { s.height = 28; },
           grid:{display:false, drawTicks:false}, border:{display:false},
           ticks:{color:AX, font:{family:SANS, size:14, lineHeight:1.2}, padding:13, maxRotation:0, callback:v => String(v)}},
        y:{type:'linear', min:-5, max:5, afterBuildTicks:setTicks(trajTicks), afterFit:s => { s.width = 30; },
           grid:{display:false, drawTicks:false}, border:{display:false},
           ticks:{color:AX, font:{family:SANS, size:14, lineHeight:1.2}, padding:4, callback:v => String(v)}}
      }
    },
    plugins:[frame]
  });
});

// ===================== COLORBAR =====================
(function(){
  const N = 96, cv = place(549, 12, 60, 404);
  const sets = [];
  for (let i = 0; i < N; i++){
    const lo = cMin + (cMax-cMin)*i/N, hi = cMin + (cMax-cMin)*(i+1)/N;
    sets.push({data:[[lo,hi]], backgroundColor: parula((i+0.5)/N), borderWidth:0, grouped:false, barPercentage:1, categoryPercentage:1});
  }
  new Chart(cv, {
    type:'bar',
    data:{labels:['c'], datasets: sets},
    options:{
      responsive:false, animation:false, events:[],
      layout:{padding:{top:10,bottom:10,left:0,right:0}},
      plugins:{legend:{display:false}, tooltip:{enabled:false}, frame:{tick:3, xTicks:false, grid:false}},
      scales:{
        x:{display:false},
        y:{position:'right', min:cMin, max:cMax, afterBuildTicks:setTicks(cbTicks), afterFit:s => { s.width = 40; },
           grid:{display:false, drawTicks:false}, border:{display:false},
           ticks:{color:AX, font:{family:SANS, size:13, lineHeight:1.2}, padding:6, callback:v => v.toFixed(2)}}
      }
    },
    plugins:[frame]
  });
})();

// ===================== TIME HISTORIES =====================
const hist = [
  {plotY:[21,67], yr:[0,4], yt:[0,2,4], blue:m1Blue, green:m1Green, refs:m1Refs},
  {plotY:[127,173], yr:[-5,5], yt:[-5,0,5], blue:m2Blue, green:m2Green, refs:m2Refs},
  {plotY:[232,278], yr:[-4,0], yt:[-4,-2,0], blue:m3Blue, green:m3Green, refs:m3Refs},
  {plotY:[336,383], yr:[-5,5], yt:[-5,0,5], blue:m4Blue, green:m4Green, refs:m4Refs}
];
hist.forEach(h => {
  const [T,B] = h.plotY, L = 659, R = 1109;
  const cv = place(L-30, T-10, (R-L)+46, (B-T)+63);
  const refSets = h.refs.map(r => ({
    data:[{x:0,y:r},{x:0.4,y:r}], borderColor: (h.refs.length > 1 && r > 0) ? 'rgba(255,40,40,0.55)' : '#ff2020',
    borderWidth:1.3, borderDash:[5,3], pointRadius:0, fill:false
  }));
  new Chart(cv, {
    type:'line',
    data:{datasets:[
      {data: tHist.map((t,i) => ({x:t, y:h.green[i]})), borderColor:'#10e010', borderWidth:3.2, borderDash:[0.1,8.8], borderCapStyle:'round', pointRadius:0, cubicInterpolationMode:'monotone', fill:false},
      ...refSets,
      {data: tHist.map((t,i) => ({x:t, y:h.blue[i]})), borderColor:'#0000ff', borderWidth:3.8, pointRadius:0, cubicInterpolationMode:'monotone', fill:false}
    ]},
    options:{
      responsive:false, animation:false, events:[],
      layout:{padding:{top:10,right:16,left:0,bottom:0}},
      plugins:{legend:{display:false}, tooltip:{enabled:false}, frame:{tick:3, xTicks:true, grid:true, gridColor:'#e2e2e2', gridDash:[], gridBelow:true}},
      scales:{
        x:{type:'linear', min:0, max:0.4, afterBuildTicks:setTicks(histTicks), afterFit:s => { s.height = 53; },
           grid:{display:false, drawTicks:false}, border:{display:false},
           ticks:{color:AX, font:{family:SANS, size:14, lineHeight:1.2}, padding:10, maxRotation:0, callback:v => String(v)},
           title:{display:true, text:'Time (s)', color:AX, font:{family:SERIF, size:21, weight:'normal', lineHeight:1}, padding:{top:0,bottom:0}}},
        y:{type:'linear', min:h.yr[0], max:h.yr[1], afterBuildTicks:setTicks(h.yt), afterFit:s => { s.width = 30; },
           grid:{display:false, drawTicks:false}, border:{display:false},
           ticks:{color:AX, font:{family:SANS, size:14, lineHeight:1.2}, padding:4, callback:v => String(v)}}
      }
    },
    plugins:[frame]
  });
});
</script>
</body>
</html>
